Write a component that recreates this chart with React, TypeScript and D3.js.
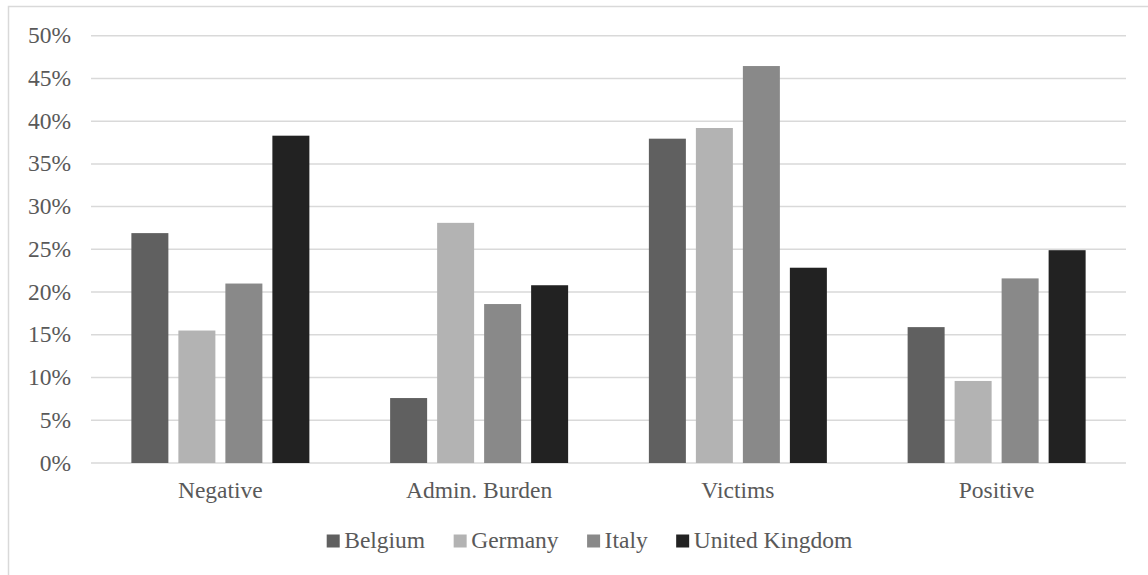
import React, { useLayoutEffect, useRef, useState } from "react";
import * as d3 from "d3";

const categories = ["Negative", "Admin. Burden", "Victims", "Positive"];
const seriesNames = ["Belgium", "Germany", "Italy", "United Kingdom"];
const belgium = [26.9, 7.6, 37.95, 15.9];
const germany = [15.5, 28.1, 39.2, 9.6];
const italy = [21.0, 18.6, 46.45, 21.6];
const unitedKingdom = [38.3, 20.8, 22.85, 24.9];
const seriesColors = ["#606060", "#b3b3b3", "#898989", "#222222"];
const yTicks = [0, 5, 10, 15, 20, 25, 30, 35, 40, 45, 50];

const W = 1148;
const H = 575;
const TEXT = "#595959";
const fontStyle = { fontFamily: "Liberation Serif", fontSize: "23.5px" };

export default function App() {
  const seriesValues = [belgium, germany, italy, unitedKingdom];
  const left = 91, right = 1126, top = 35.7, bottom = 463;
  const y = d3.scaleLinear().domain([0, 50]).range([bottom, top]);
  const x = d3.scaleBand<string>().domain(categories).range([left, right]).padding(0);
  const groupW = 178;

  const textRefs = useRef<(SVGTextElement | null)[]>([]);
  const [widths, setWidths] = useState<number[]>(seriesNames.map(s => s.length * 11));

  useLayoutEffect(() => {
    const w = textRefs.current.map(t => (t ? t.getComputedTextLength() : 0));
    setWidths(w);
  }, []);

  const sq = 13, sqGap = 4.5, itemGap = 28.5;
  const itemW = widths.map(w => sq + sqGap + w);
  const total = d3.sum(itemW) + itemGap * (itemW.length - 1);
  const legendCenter = 589.5;
  const starts: number[] = [];
  let cx = legendCenter - total / 2;
  itemW.forEach(w => { starts.push(cx); cx += w + itemGap; });

  return (
    <svg width={W} height={H} style={{ position: "absolute", left: 0, top: 0, background: "white" }}>
      <rect x={8.5} y={6.5} width={1160} height={600} fill="white" stroke="#d9d9d9" strokeWidth={1.5} />
      {yTicks.map(t => (
        <line key={"g" + t} x1={left} x2={right} y1={y(t)} y2={y(t)} stroke="#d9d9d9" strokeWidth={1.5} />
      ))}
      {yTicks.map(t => (
        <text key={"t" + t} x={71} y={y(t) + 7.5} textAnchor="end" fill={TEXT} style={fontStyle}>
          {`${t}%`}
        </text>
      ))}
      {categories.map((c, ci) => {
        const center = (x(c) as number) + x.bandwidth() / 2;
        const inner = d3.scaleBand<string>().domain(seriesNames)
          .range([center - groupW / 2, center + groupW / 2])
          .paddingInner(10 / 47).paddingOuter(0);
        return (
          <g key={c}>
            {seriesNames.map((s, si) => {
              const v = seriesValues[si][ci];
              return (
                <rect key={s} x={inner(s) as number} y={y(v)} width={inner.bandwidth()}
                  height={y(0) - y(v)} fill={seriesColors[si]} />
              );
            })}
            <text x={center} y={498} textAnchor="middle" fill={TEXT} style={fontStyle}>{c}</text>
          </g>
        );
      })}
      {seriesNames.map((s, i) => (
        <g key={s} transform={`translate(${starts[i]},548)`}>
          <rect x={0} y={-13.5} width={sq} height={sq} fill={seriesColors[i]} />
          <text ref={el => { textRefs.current[i] = el; }} x={sq + sqGap} y={0} fill={TEXT} style={fontStyle}>{s}</text>
        </g>
      ))}
    </svg>
  );
}
